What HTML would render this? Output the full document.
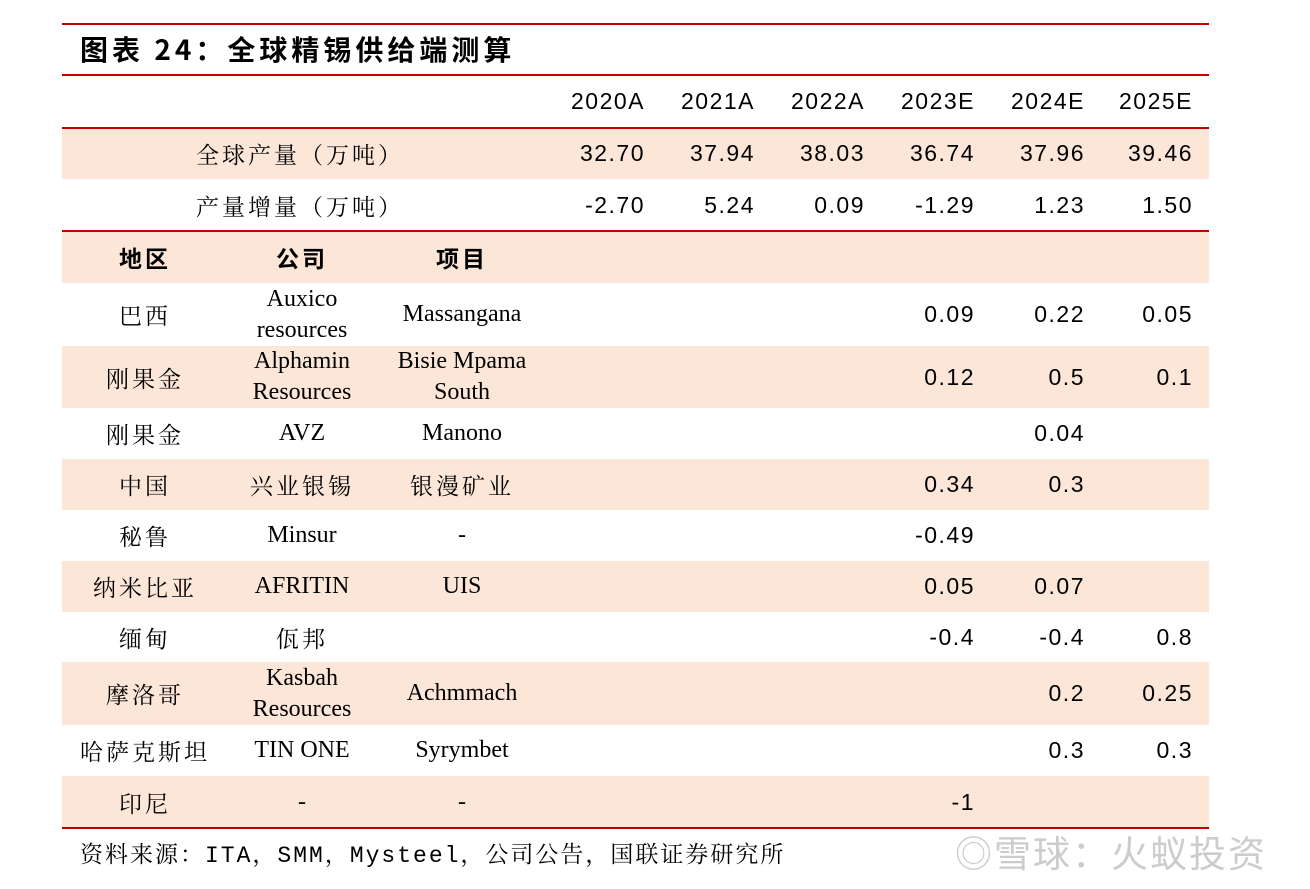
<!DOCTYPE html>
<html><head><meta charset="utf-8">
<style>
body{margin:0;width:1310px;height:889px;background:#fff;position:relative;overflow:hidden;font-family:"Liberation Serif","Noto Serif CJK SC",serif;color:#000}
.ln{position:absolute;left:62px;width:1147px;height:2px;background:#C00000}
.row{position:absolute;left:62px;width:1147px}
.sh{background:#FCE6D8}
.c{position:absolute;top:0;height:100%;display:flex;align-items:center;justify-content:center;text-align:center;font-size:24px;line-height:31px}
.n{position:absolute;top:0;height:100%;display:flex;align-items:center;justify-content:flex-end;font-family:"Liberation Sans","Noto Sans CJK SC",sans-serif;font-size:23px;letter-spacing:1.5px}
.zh{font-family:"Noto Serif CJK SC",serif;font-size:23px;letter-spacing:3px}
</style></head><body>
<div class="ln" style="top:23px"></div>
<div style="position:absolute;left:80px;top:29px;font-family:'Noto Sans CJK SC',sans-serif;font-weight:bold;font-size:28px;letter-spacing:4px">图表 24：全球精锡供给端测算</div>
<div class="ln" style="top:74px"></div>
<div id="t"></div>
<div class="ln" style="top:127px"></div>
<div class="ln" style="top:230px"></div>
<div class="ln" style="top:827px"></div>
<div style="position:absolute;left:80px;top:836px;font-family:'Liberation Mono','Noto Serif CJK SC',monospace;font-size:23px;letter-spacing:2px">资料来源：ITA，SMM，Mysteel，公司公告，国联证券研究所</div>
<div style="position:absolute;left:955px;top:824px;font-family:'Noto Sans CJK SC',sans-serif;font-size:37px;color:#ccc;letter-spacing:2px">◎雪球：火蚁投资</div>
<script>
const years=["2020A","2021A","2022A","2023E","2024E","2025E"];
const output=["32.70","37.94","38.03","36.74","37.96","39.46"];
const growth=["-2.70","5.24","0.09","-1.29","1.23","1.50"];
const regions=["巴西","刚果金","刚果金","中国","秘鲁","纳米比亚","缅甸","摩洛哥","哈萨克斯坦","印尼"];
const companies=["Auxico<br>resources","Alphamin<br>Resources","AVZ","兴业银锡","Minsur","AFRITIN","佤邦","Kasbah<br>Resources","TIN ONE","-"];
const projects=["Massangana","Bisie Mpama<br>South","Manono","银漫矿业","-","UIS","","Achmmach","Syrymbet","-"];
const v2023=["0.09","0.12","","0.34","-0.49","0.05","-0.4","","","-1"];
const v2024=["0.22","0.5","0.04","0.3","","0.07","-0.4","0.2","0.3",""];
const v2025=["0.05","0.1","","","","","0.8","0.25","0.3",""];
const rowTops=[75,128,179,231,283,346,408,459,510,561,612,662,725,776,828];
const numRight=[645,755,865,975,1085,1193];
const t=document.getElementById('t');
function mkRow(i,shade){
  const r=document.createElement('div');
  
  
  r.className='row'+(shade?' sh':'');
  r.style.top=rowTops[i]+'px';r.style.height=(rowTops[i+1]-rowTops[i])+'px';
  t.appendChild(r);return r;
}
function cell(r,html,cx,w,cls){
  const d=document.createElement('div');
  
  
  d.className='c '+(cls||'');d.innerHTML=html;
  d.style.left=(cx-62-w/2)+'px';d.style.width=w+'px';r.appendChild(d);return d;
}
function num(r,txt,k){
  const d=document.createElement('div');
  
  
  d.className='n';d.textContent=txt;
  d.style.right=(1209-numRight[k])+'px';d.style.width='110px';r.appendChild(d);
}
let r=mkRow(0,false);years.forEach((y,k)=>num(r,y,k));
r=mkRow(1,true);cell(r,"全球产量（万吨）",300,280,'zh');output.forEach((y,k)=>num(r,y,k));
r=mkRow(2,false);cell(r,"产量增量（万吨）",300,280,'zh');growth.forEach((y,k)=>num(r,y,k));
r=mkRow(3,true);
cell(r,"<b style='font-family:Noto Sans CJK SC'>地区</b>",145,150,'zh');
cell(r,"<b style='font-family:Noto Sans CJK SC'>公司</b>",302,150,'zh');
cell(r,"<b style='font-family:Noto Sans CJK SC'>项目</b>",462,150,'zh');
regions.forEach((g,i)=>{
  const rr=mkRow(4+i,i%2==1);
  cell(rr,g,145,170,'zh');
  cell(rr,companies[i],302,160,/[\u4e00-\u9fff]/.test(companies[i])?'zh':'');
  cell(rr,projects[i],462,170,/[\u4e00-\u9fff]/.test(projects[i])?'zh':'');
  if(v2023[i])num(rr,v2023[i],3);
  if(v2024[i])num(rr,v2024[i],4);
  if(v2025[i])num(rr,v2025[i],5);
});
</script>
</body></html>
